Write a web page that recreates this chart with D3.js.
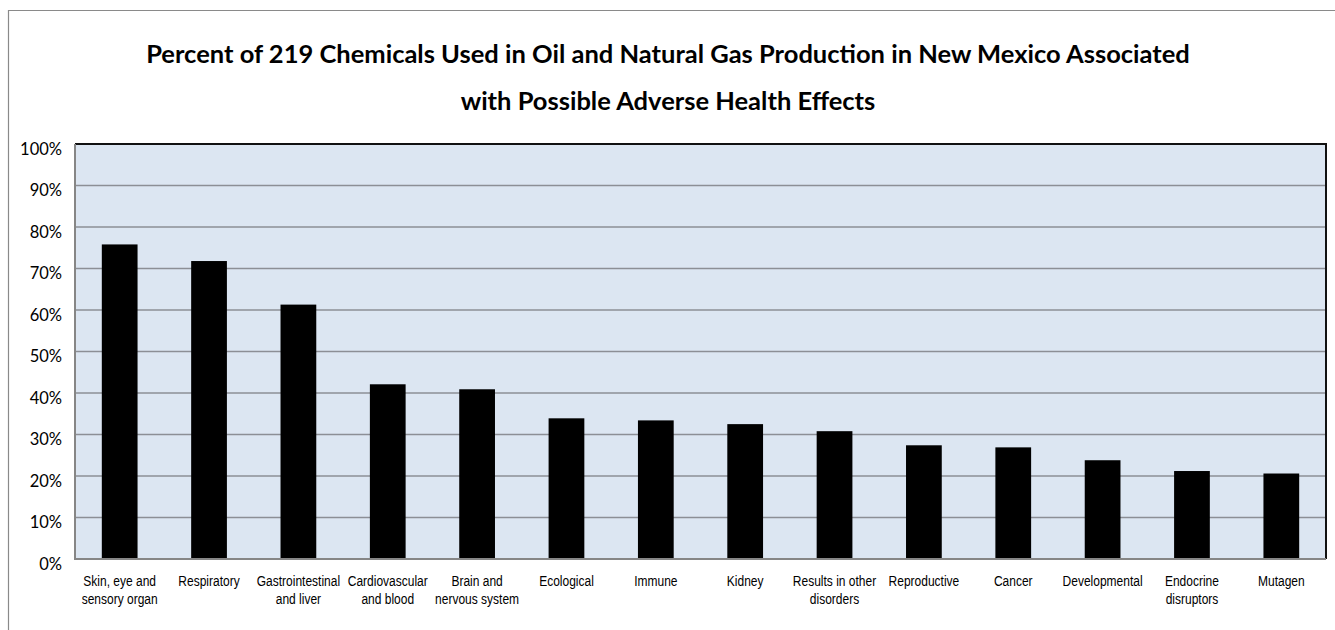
<!DOCTYPE html>
<html>
<head>
<meta charset="utf-8">
<script src="https://cdn.jsdelivr.net/npm/d3@7"></script>
<style>
  body { margin: 0; background: #fff; }
  svg { display: block; }
</style>
</head>
<body>
<div id="chart"></div>
<script>
// categories (x labels split into lines) and values (percent)
const categories = [
  ['Skin, eye and', 'sensory organ'],
  ['Respiratory'],
  ['Gastrointestinal', 'and liver'],
  ['Cardiovascular', 'and blood'],
  ['Brain and', 'nervous system'],
  ['Ecological'],
  ['Immune'],
  ['Kidney'],
  ['Results in other', 'disorders'],
  ['Reproductive'],
  ['Cancer'],
  ['Developmental'],
  ['Endocrine', 'disruptors'],
  ['Mutagen']
];
const values = [75.8, 71.8, 61.3, 42.1, 40.9, 33.9, 33.4, 32.5, 30.8, 27.4, 26.9, 23.8, 21.2, 20.6];
const yTicks = [0, 10, 20, 30, 40, 50, 60, 70, 80, 90, 100];
const titleLines = [
  'Percent of 219 Chemicals Used in Oil and Natural Gas Production in New Mexico Associated',
  'with Possible Adverse Health Effects'
];

const width = 1335, height = 630;
const margin = { top: 144, right: 9, bottom: 71, left: 75 };
const w = width - margin.left - margin.right;
const h = height - margin.top - margin.bottom;

const svg = d3.select('#chart').append('svg')
  .attr('width', width).attr('height', height);

// outer chart frame (cropped at right/bottom)
svg.append('path')
  .attr('d', `M8.5,${height + 2}V10.5H${width + 2}`)
  .attr('fill', 'none').attr('stroke', '#8a8a8a').attr('stroke-width', 1.2);

// title
svg.append('g').selectAll('text')
  .data(titleLines)
  .join('text')
  .attr('x', 668)
  .attr('y', (d, i) => 63 + i * 47)
  .attr('text-anchor', 'middle')
  .attr('font-family', 'Lato, "Open Sans", sans-serif')
  .attr('font-weight', 'bold')
  .attr('font-size', 25.5)
  .attr('fill', '#000')
  .text(d => d);

const g = svg.append('g').attr('transform', `translate(${margin.left},${margin.top})`);

const x = d3.scaleBand()
  .domain(d3.range(categories.length))
  .range([0, w])
  .paddingInner(0.6).paddingOuter(0.3);

const y = d3.scaleLinear().domain([0, 100]).range([h, 0]);

// plot background
g.append('rect')
  .attr('width', w).attr('height', h)
  .attr('fill', '#dce6f2');

// gridlines
g.append('g').selectAll('line')
  .data(yTicks.filter(t => t > 0 && t < 100))
  .join('line')
  .attr('x1', 0).attr('x2', w)
  .attr('y1', d => y(d)).attr('y2', d => y(d))
  .attr('stroke', '#8c8f96').attr('stroke-width', 1.5);

// bars
g.append('g').selectAll('rect')
  .data(values)
  .join('rect')
  .attr('x', (d, i) => x(i))
  .attr('y', d => y(d))
  .attr('width', x.bandwidth())
  .attr('height', d => h - y(d))
  .attr('fill', '#000');

// plot border: top/right dark, left/bottom gray axis lines
g.append('path')
  .attr('d', `M0,0H${w}V${h}`)
  .attr('fill', 'none').attr('stroke', '#111').attr('stroke-width', 2);
g.append('path')
  .attr('d', `M0,0V${h}H${w}`)
  .attr('fill', 'none').attr('stroke', '#868686').attr('stroke-width', 2);

// y axis
const yAxis = g.append('g')
  .call(d3.axisLeft(y).tickValues(yTicks).tickSize(0).tickPadding(13).tickFormat(d => d + '%'));
yAxis.select('.domain').remove();
yAxis.selectAll('text')
  .attr('dy', '0.62em')
  .attr('font-family', 'Lato, "Open Sans", sans-serif')
  .attr('font-size', 16.5)
  .attr('fill', '#000');

// x axis labels (narrow face imitated by horizontal squeeze)
const xAxis = g.append('g')
  .attr('transform', `translate(0,${h})`)
  .call(d3.axisBottom(x).tickSize(0).tickFormat(''));
xAxis.select('.domain').remove();
xAxis.selectAll('.tick').append('text')
  .attr('text-anchor', 'middle')
  .attr('transform', 'scale(0.8,1)')
  .attr('font-family', '"Liberation Sans", Arial, sans-serif')
  .attr('font-size', 15)
  .attr('fill', '#000')
  .selectAll('tspan')
  .data(i => categories[i])
  .join('tspan')
  .attr('x', 0)
  .attr('y', (d, j) => 27 + j * 18)
  .text(d => d);
</script>
</body>
</html>
